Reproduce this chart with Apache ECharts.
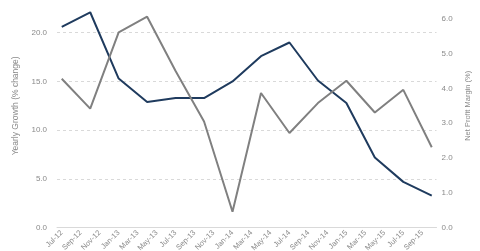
<!DOCTYPE html>
<html>
<head>
<meta charset="utf-8">
<script src="https://cdn.jsdelivr.net/npm/echarts@6/dist/echarts.min.js"></script>
<style>html,body{margin:0;padding:0;background:#fff}#c{width:480px;height:251px}</style>
</head>
<body>
<div id="c"></div>
<script>
// Monthly category axis (labels shown every 2 months), data quarterly
const months = ["Jul-12","Aug-12","Sep-12","Oct-12","Nov-12","Dec-12",
  "Jan-13","Feb-13","Mar-13","Apr-13","May-13","Jun-13","Jul-13","Aug-13","Sep-13","Oct-13","Nov-13","Dec-13",
  "Jan-14","Feb-14","Mar-14","Apr-14","May-14","Jun-14","Jul-14","Aug-14","Sep-14","Oct-14","Nov-14","Dec-14",
  "Jan-15","Feb-15","Mar-15","Apr-15","May-15","Jun-15","Jul-15","Aug-15","Sep-15","Oct-15"];
const quarters = ["Jul-12","Oct-12","Jan-13","Apr-13","Jul-13","Oct-13","Jan-14","Apr-14","Jul-14","Oct-14","Jan-15","Apr-15","Jul-15","Oct-15"];
const yearlyGrowth = [20.6, 22.1, 15.3, 12.9, 13.3, 13.3, 15.0, 17.6, 19.0, 15.1, 12.8, 7.2, 4.7, 3.3];
const netProfitMargin = [4.28, 3.42, 5.61, 6.06, 4.5, 3.05, 0.46, 3.87, 2.72, 3.58, 4.22, 3.31, 3.96, 2.31];
const leftName = "Yearly Growth (% change)";
const rightName = "Net Profit Margin (%)";

const chart = echarts.init(document.getElementById('c'), null, {renderer: 'canvas'});
const labelColor = '#8a8a8a';
chart.setOption({
  animation: false,
  grid: {left: 57, right: 43.5, top: -16, bottom: 23.3, containLabel: false, outerBoundsMode: 'none'},
  xAxis: {
    type: 'category', data: months, boundaryGap: true,
    axisLine: {lineStyle: {color: '#d9d9d9', width: 1}},
    axisTick: {show: false},
    axisLabel: {interval: 1, rotate: 45, fontSize: 7.5, color: labelColor, fontFamily: 'Liberation Sans', margin: 4}
  },
  yAxis: [{
    type: 'value', min: 0, max: 25, interval: 5,
    name: leftName, nameLocation: 'middle', nameGap: 34,
    nameTextStyle: {fontSize: 8.5, color: labelColor, fontFamily: 'Liberation Sans'},
    axisLine: {show: false}, axisTick: {show: false},
    axisLabel: {formatter: v => v.toFixed(1), fontSize: 8, color: labelColor, fontFamily: 'Liberation Sans', margin: 10},
    splitLine: {lineStyle: {color: '#d9d9d9', type: [3, 3], width: 1}}
  }, {
    type: 'value', min: 0, max: 7, interval: 1,
    name: rightName, nameLocation: 'middle', nameGap: 21,
    nameTextStyle: {fontSize: 7.5, color: labelColor, fontFamily: 'Liberation Sans'},
    axisLine: {show: false}, axisTick: {show: false},
    axisLabel: {formatter: v => v.toFixed(1), fontSize: 8, color: labelColor, fontFamily: 'Liberation Sans', margin: 5},
    splitLine: {show: false}
  }],
  series: [{
    type: 'line', yAxisIndex: 0, symbol: 'none',
    data: quarters.map((q, i) => [q, yearlyGrowth[i]]),
    lineStyle: {color: '#1f3b5e', width: 2}
  }, {
    type: 'line', yAxisIndex: 1, symbol: 'none',
    data: quarters.map((q, i) => [q, netProfitMargin[i]]),
    lineStyle: {color: '#808080', width: 2}
  }]
});
</script>
</body>
</html>
